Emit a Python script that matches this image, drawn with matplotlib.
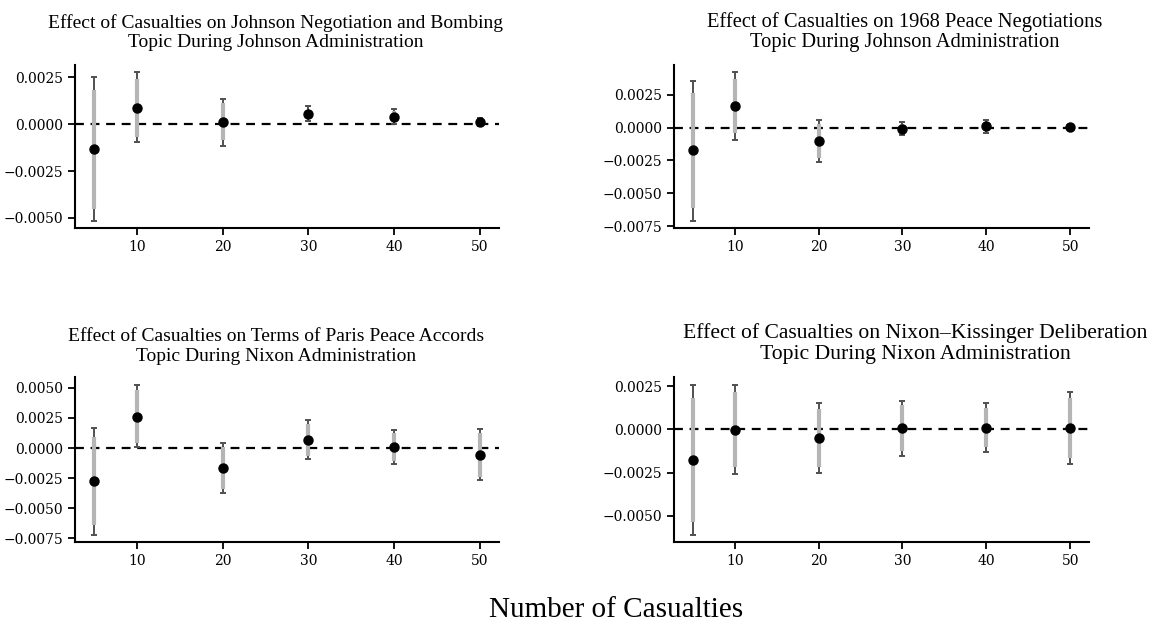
import numpy as np
import matplotlib
matplotlib.use("Agg")
import matplotlib.pyplot as plt
from matplotlib.ticker import MultipleLocator

plt.rcParams['font.family'] = ['DejaVu Serif']

casualties = [5, 10, 20, 30, 40, 50]

title_lines = [
    ("Effect of Casualties on Johnson Negotiation and Bombing", "Topic During Johnson Administration"),
    ("Effect of Casualties on 1968 Peace Negotiations", "Topic During Johnson Administration"),
    ("Effect of Casualties on Terms of Paris Peace Accords", "Topic During Nixon Administration"),
    ("Effect of Casualties on Nixon\u2013Kissinger Deliberation", "Topic During Nixon Administration"),
]

# point estimates
est_1 = [-0.00133, 0.00085, 0.00009, 0.00055, 0.00039, 0.00012]
est_2 = [-0.00172, 0.00162, -0.00101, -0.00010, 0.00010, 0.00003]
est_3 = [-0.00278, 0.00261, -0.00169, 0.00067, 0.00011, -0.00059]
est_4 = [-0.00176, -0.00002, -0.00051, 0.00006, 0.00010, 0.00008]

# outer interval (thin, capped)
lo95_1 = [-0.00514, -0.00098, -0.00115, 0.00014, 0.00002, -0.00009]
hi95_1 = [0.00250, 0.00275, 0.00131, 0.00094, 0.00080, 0.00032]
lo95_2 = [-0.00707, -0.00096, -0.00260, -0.00060, -0.00040, -0.00015]
hi95_2 = [0.00356, 0.00419, 0.00058, 0.00045, 0.00060, 0.00023]
lo95_3 = [-0.00719, 0.00006, -0.00376, -0.00093, -0.00129, -0.00267]
hi95_3 = [0.00166, 0.00528, 0.00045, 0.00230, 0.00152, 0.00155]
lo95_4 = [-0.00607, -0.00256, -0.00250, -0.00152, -0.00129, -0.00201]
hi95_4 = [0.00260, 0.00260, 0.00154, 0.00166, 0.00152, 0.00215]

# inner interval (thick, light grey)
lo90_1 = [-0.00450, -0.00069, -0.00087, 0.00028, 0.00012, 0.00000]
hi90_1 = [0.00183, 0.00240, 0.00112, 0.00076, 0.00067, 0.00023]
lo90_2 = [-0.00609, -0.00045, -0.00235, -0.00045, -0.00025, -0.00010]
hi90_2 = [0.00263, 0.00369, 0.00030, 0.00030, 0.00045, 0.00015]
lo90_3 = [-0.00643, 0.00042, -0.00337, -0.00065, -0.00104, -0.00239]
hi90_3 = [0.00090, 0.00480, 0.00008, 0.00202, 0.00126, 0.00121]
lo90_4 = [-0.00537, -0.00215, -0.00215, -0.00123, -0.00102, -0.00166]
hi90_4 = [0.00184, 0.00215, 0.00117, 0.00141, 0.00123, 0.00180]

panels = [
    (est_1, lo95_1, hi95_1, lo90_1, hi90_1),
    (est_2, lo95_2, hi95_2, lo90_2, hi90_2),
    (est_3, lo95_3, hi95_3, lo90_3, hi90_3),
    (est_4, lo95_4, hi95_4, lo90_4, hi90_4),
]

fig = plt.figure(figsize=(11.73, 6.25), dpi=100)
W, H = 1173.0, 625.0
# axes boxes in pixels: left, top, right, bottom
boxes = [(75, 65, 499, 228), (674, 65, 1089, 228),
         (75, 377, 499, 542), (674, 377, 1089, 542)]
# title placement in pixels: center x, baseline of line 1, baseline of line 2, size
title_pos = [(276, 28, 47, 14), (905, 27, 47, 14.8),
             (276, 341, 361, 14), (915, 338, 359, 15.6)]

for (l, t, r, b), (est, lo95, hi95, lo90, hi90) in zip(boxes, panels):
    ax = fig.add_axes([l / W, 1 - b / H, (r - l) / W, (b - t) / H])
    x = np.array(casualties)
    est = np.array(est)
    ax.axhline(0, color='black', linestyle=(0, (4, 3)), linewidth=1.6, zorder=1)
    ax.errorbar(x, est, yerr=[est - np.array(lo95), np.array(hi95) - est],
                fmt='none', ecolor='#505050', elinewidth=1.4, capsize=2.5,
                capthick=1.4, zorder=2)
    ax.vlines(x, lo90, hi90, color='#b5b5b5', linewidth=3.0, zorder=3)
    ax.plot(x, est, 'o', color='black', markersize=6.5, zorder=4)
    ax.set_xticks([10, 20, 30, 40, 50])
    ax.yaxis.set_major_locator(MultipleLocator(0.0025))
    for side in ['top', 'right']:
        ax.spines[side].set_visible(False)
    for side in ['left', 'bottom']:
        ax.spines[side].set_linewidth(1.5)
    ax.tick_params(width=1.3, length=5, labelsize=10)

for (line1, line2), (cx, y1, y2, size) in zip(title_lines, title_pos):
    fig.text(cx / W, 1 - y1 / H, line1, ha='center', va='baseline',
             fontsize=size, family='Liberation Serif')
    fig.text(cx / W, 1 - y2 / H, line2, ha='center', va='baseline',
             fontsize=size, family='Liberation Serif')

fig.text(616 / W, 1 - 617 / H, "Number of Casualties", ha='center',
         va='baseline', fontsize=21, family='Liberation Serif')

fig.savefig("out.png", dpi=100)
